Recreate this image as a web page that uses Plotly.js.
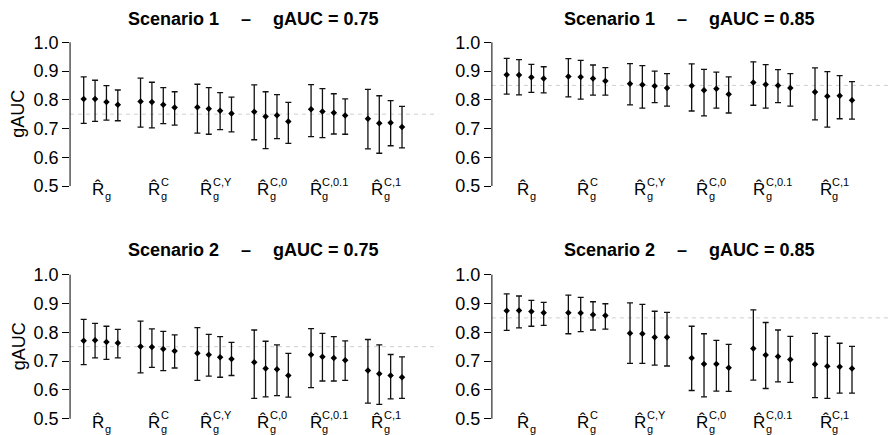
<!DOCTYPE html>
<html><head><meta charset="utf-8">
<script src="https://cdn.plot.ly/plotly-3.0.1.min.js"></script>
<style>html,body{margin:0;padding:0;background:#fff}#chart{width:889px;height:435px}</style>
</head><body><div id="chart"></div>
<script>
// ---- data ----
const methodSup = ["", "C", "C,Y", "C,0", "C,0.1", "C,1"];
const scenarioNames = ["Scenario 1", "Scenario 1", "Scenario 2", "Scenario 2"];
const trueGAUC = [0.75, 0.85, 0.75, 0.85];
const yTicks = [0.5, 0.6, 0.7, 0.8, 0.9, 1.0];
const yTickText = ["0.5", "0.6", "0.7", "0.8", "0.9", "1.0"];

const est_s1_075 = [0.803,0.803,0.792,0.783, 0.794,0.792,0.783,0.773, 0.774,0.769,0.762,0.752, 0.758,0.742,0.746,0.724, 0.767,0.759,0.755,0.745, 0.734,0.718,0.720,0.705];
const hi_s1_075  = [0.880,0.868,0.849,0.834, 0.875,0.861,0.842,0.828, 0.854,0.842,0.825,0.809, 0.852,0.828,0.818,0.791, 0.853,0.839,0.821,0.803, 0.836,0.814,0.797,0.777];
const lo_s1_075  = [0.718,0.725,0.729,0.727, 0.705,0.702,0.717,0.712, 0.684,0.680,0.696,0.688, 0.661,0.630,0.665,0.648, 0.672,0.668,0.681,0.680, 0.629,0.614,0.640,0.633];

const est_s1_085 = [0.887,0.886,0.878,0.874, 0.881,0.879,0.874,0.865, 0.856,0.852,0.848,0.841, 0.849,0.833,0.838,0.819, 0.860,0.853,0.850,0.841, 0.827,0.812,0.814,0.798];
const hi_s1_085  = [0.944,0.940,0.923,0.915, 0.943,0.937,0.921,0.912, 0.926,0.919,0.900,0.891, 0.925,0.906,0.896,0.880, 0.932,0.922,0.905,0.891, 0.911,0.898,0.884,0.863];
const lo_s1_085  = [0.820,0.817,0.826,0.824, 0.810,0.802,0.816,0.816, 0.782,0.771,0.790,0.778, 0.761,0.744,0.771,0.754, 0.781,0.771,0.790,0.778, 0.730,0.705,0.734,0.733];

const est_s2_075 = [0.771,0.772,0.766,0.763, 0.751,0.749,0.742,0.735, 0.727,0.722,0.713,0.707, 0.696,0.674,0.672,0.650, 0.722,0.715,0.711,0.703, 0.667,0.656,0.650,0.644];
const hi_s2_075  = [0.845,0.831,0.821,0.810, 0.839,0.812,0.803,0.791, 0.816,0.793,0.785,0.765, 0.808,0.769,0.756,0.727, 0.813,0.796,0.785,0.770, 0.775,0.756,0.723,0.715];
const lo_s2_075  = [0.688,0.711,0.706,0.711, 0.659,0.678,0.667,0.676, 0.633,0.648,0.644,0.650, 0.571,0.576,0.580,0.575, 0.608,0.631,0.631,0.633, 0.554,0.550,0.569,0.571];

const est_s2_085 = [0.875,0.876,0.872,0.868, 0.868,0.867,0.861,0.858, 0.797,0.795,0.783,0.783, 0.711,0.690,0.690,0.677, 0.744,0.721,0.716,0.706, 0.689,0.682,0.680,0.674];
const hi_s2_085  = [0.933,0.926,0.911,0.904, 0.929,0.921,0.906,0.899, 0.902,0.897,0.873,0.869, 0.821,0.795,0.772,0.758, 0.878,0.834,0.808,0.786, 0.796,0.786,0.762,0.751];
const lo_s2_085  = [0.807,0.815,0.821,0.824, 0.795,0.802,0.808,0.811, 0.692,0.692,0.686,0.683, 0.598,0.576,0.596,0.595, 0.634,0.605,0.628,0.626, 0.573,0.571,0.589,0.589];

const panelData = [
  [est_s1_075, lo_s1_075, hi_s1_075],
  [est_s1_085, lo_s1_085, hi_s1_085],
  [est_s2_075, lo_s2_075, hi_s2_075],
  [est_s2_085, lo_s2_085, hi_s2_085]
];

// ---- layout helpers ----
const W = 889, H = 435;
const FONT = '"Liberation Sans", Arial, sans-serif';
const canvas = document.createElement('canvas');
const ctx = canvas.getContext('2d');
function tw(t, size, bold) { ctx.font = (bold ? 'bold ' : '') + size + 'px "Liberation Sans"'; return ctx.measureText(t).width; }

// positions: 4 estimators per method, gap of one slot between methods
const nPer = 4;
const xPos = [];
methodSup.forEach((_, g) => { for (let j = 1; j <= nPer; j++) xPos.push(g * (nPer + 1) + j); });

const xDomLeft = [70.06 / W, 438.4 / W];
const xDomRight = [491.9 / W, 1];
const yDomTop = [1 - 191.75 / H, 1 - 36.55 / H];
const yDomBot = [1 - 424.5 / H, 1 - 268.9 / H];
const panels = [
  { xd: xDomLeft, yd: yDomTop, xr: [-0.2, 32.2] },
  { xd: xDomRight, yd: yDomTop, xr: [-0.2, 32.0] },
  { xd: xDomLeft, yd: yDomBot, xr: [-0.2, 32.2] },
  { xd: xDomRight, yd: yDomBot, xr: [-0.2, 32.0] }
];

const traces = [];
const layout = {
  width: W, height: H,
  margin: { l: 0, r: 0, t: 0, b: 0 },
  paper_bgcolor: '#fff', plot_bgcolor: '#fff',
  showlegend: false,
  font: { family: FONT, color: '#000' },
  annotations: [], shapes: []
};

panels.forEach((p, k) => {
  const sfx = k === 0 ? '' : String(k + 1);
  const xa = 'x' + sfx, ya = 'y' + sfx;
  const [est, lo, hi] = panelData[k];
  traces.push({
    type: 'scatter', mode: 'markers', xaxis: xa, yaxis: ya,
    x: xPos, y: est,
    marker: { symbol: 'diamond', size: 5, color: '#000' },
    error_y: { type: 'data', symmetric: false,
      array: hi.map((h, i) => h - est[i]),
      arrayminus: lo.map((l, i) => est[i] - l),
      color: '#111', thickness: 1.3, width: 3 },
    hoverinfo: 'skip', cliponaxis: false
  });
  layout['xaxis' + sfx] = { domain: p.xd, range: p.xr, visible: false, fixedrange: true, anchor: ya };
  layout['yaxis' + sfx] = { domain: p.yd, range: [0.48, 1.02], anchor: xa,
    tickvals: yTicks, ticktext: yTickText, ticks: 'outside', ticklen: 7, tickwidth: 1, tickcolor: '#000',
    showline: false, showgrid: false, zeroline: false,
    tickfont: { size: 18, family: FONT, color: '#000' } };

  // axis line from 0.5 to 1.0
  layout.shapes.push({ type: 'line', xref: xa + ' domain', yref: ya, x0: 0, x1: 0, y0: yTicks[0], y1: yTicks[yTicks.length - 1], line: { color: '#000', width: 1 } });
  // dashed reference line at true gAUC
  layout.shapes.push({ type: 'line', xref: xa + ' domain', yref: ya, x0: 0, x1: 1, y0: trueGAUC[k], y1: trueGAUC[k], line: { color: '#cfcfcf', width: 1, dash: '4px,4px' }, layer: 'below' });

  // title in three pieces
  const topPx = (k < 2) ? 18.8 : 250;
  const ty = 1 - topPx / H;
  const tfont = { size: 18, family: FONT, color: '#000' };
  layout.annotations.push({ xref: xa + ' domain', yref: 'paper', x: 0.5, y: ty, xanchor: 'right', yanchor: 'middle', xshift: -34, text: '<b>' + scenarioNames[k] + '</b>', showarrow: false, font: tfont, borderpad: 0 });
  layout.annotations.push({ xref: xa + ' domain', yref: 'paper', x: 0.5, y: ty, xanchor: 'center', yanchor: 'middle', xshift: -8, text: '<b>–</b>', showarrow: false, font: tfont, borderpad: 0 });
  layout.annotations.push({ xref: xa + ' domain', yref: 'paper', x: 0.5, y: ty, xanchor: 'left', yanchor: 'middle', xshift: 18, text: '<b>gAUC = ' + trueGAUC[k].toFixed(2) + '</b>', showarrow: false, font: tfont, borderpad: 0 });

  // y axis title on the left panels
  if (k % 2 === 0) {
    layout.annotations.push({ xref: 'paper', yref: ya + ' domain', x: 18.5 / W, y: 0.5, xanchor: 'center', yanchor: 'middle', text: 'gAUC', textangle: -90, showarrow: false, font: { size: 18, family: FONT, color: '#000' }, borderpad: 0 });
  }

  // method labels: R-hat with stacked superscript / subscript g
  methodSup.forEach((sup, g) => {
    const center = g * (nPer + 1) + (nPer + 1) / 2;
    const Rw = tw('R', 17);
    const extra = Math.max(tw(sup, 11), tw('g', 11));
    const total = Rw + extra + 0.5;
    const base = { xref: xa, yref: ya, x: center, y: yTicks[0], showarrow: false, borderpad: 0, yanchor: 'middle' };
    layout.annotations.push(Object.assign({}, base, { text: 'R\u0302', xanchor: 'left', xshift: -total / 2, yshift: -3, font: { size: 17, family: FONT, color: '#000' } }));
    layout.annotations.push(Object.assign({}, base, { text: (sup || '\u00a0') + '<br>g', align: 'left', xanchor: 'left', xshift: -total / 2 + Rw + 0.5, yshift: -3, font: { size: 11, family: FONT, color: '#000' } }));
  });
});

Plotly.newPlot('chart', traces, layout, { displayModeBar: false, staticPlot: true });
</script>
</body></html>
